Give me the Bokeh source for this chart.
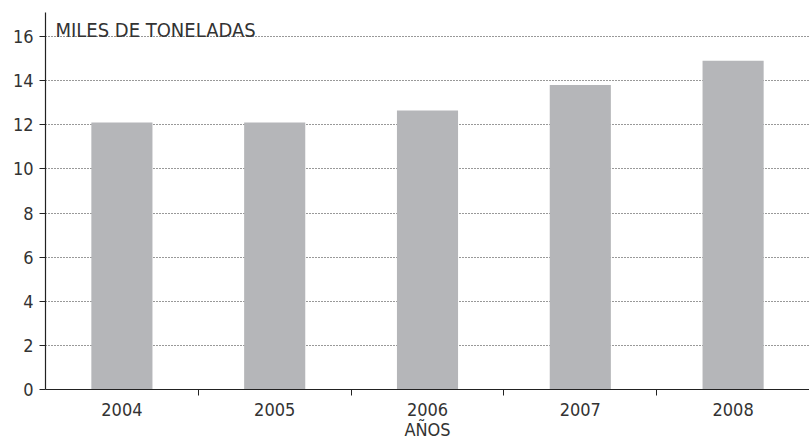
from bokeh.plotting import figure
from bokeh.models import FixedTicker, Label, ColumnDataSource
from bokeh.embed import file_html
from bokeh.resources import INLINE

years = ["2004", "2005", "2006", "2007", "2008"]
values = [12.1, 12.1, 12.65, 13.8, 14.9]
y_ticks = [0, 2, 4, 6, 8, 10, 12, 14, 16]

FONT = "DejaVu Sans Condensed, Roboto, sans-serif"
TXT = "#333333"

centers = [i + 0.5 for i in range(len(years))]
bounds = [i for i in range(1, len(years))]

src = ColumnDataSource(dict(x=centers, top=values))

p = figure(width=809, height=443, x_range=(0, len(years)), y_range=(0, 17.09),
           output_backend="svg", toolbar_location=None,
           min_border_left=45, min_border_right=0, min_border_top=12, min_border_bottom=54)
p.outline_line_color = None

p.vbar(x="x", top="top", width=0.4, source=src, fill_color="#b5b6b9", line_color=None)

xa = p.xaxis[0]
xa.ticker = FixedTicker(ticks=centers, minor_ticks=bounds)
xa.major_label_overrides = {c: y for c, y in zip(centers, years)}
xa.major_tick_line_color = None
xa.minor_tick_out = 6
xa.minor_tick_in = 0
xa.minor_tick_line_color = "#222222"
xa.axis_line_color = "#222222"
xa.axis_line_width = 1.2
xa.major_label_text_font = FONT
xa.major_label_text_font_size = "18px"
xa.major_label_text_color = TXT
xa.major_label_standoff = 7
xa.axis_label = "AÑOS"
xa.axis_label_text_font = FONT
xa.axis_label_text_font_size = "18px"
xa.axis_label_text_font_style = "normal"
xa.axis_label_text_color = TXT
xa.axis_label_standoff = 0

ya = p.yaxis[0]
ya.ticker = FixedTicker(ticks=y_ticks, minor_ticks=[])
ya.major_tick_out = 6
ya.major_tick_in = 0
ya.major_tick_line_color = "#222222"
ya.axis_line_color = "#222222"
ya.axis_line_width = 1.2
ya.major_label_text_font = FONT
ya.major_label_text_font_size = "18px"
ya.major_label_text_color = TXT
ya.major_label_standoff = 6

p.xgrid.grid_line_color = None
p.ygrid.ticker = FixedTicker(ticks=y_ticks[1:])
p.ygrid.grid_line_color = "#333333"
p.ygrid.grid_line_dash = "1 2"
p.ygrid.grid_line_width = 1

p.add_layout(Label(x=0.065, y=16.3, text="MILES DE TONELADAS",
                   text_font=FONT, text_font_size="20px", text_color=TXT,
                   text_baseline="alphabetic"))

open("out.html", "w").write(file_html(p, INLINE))
